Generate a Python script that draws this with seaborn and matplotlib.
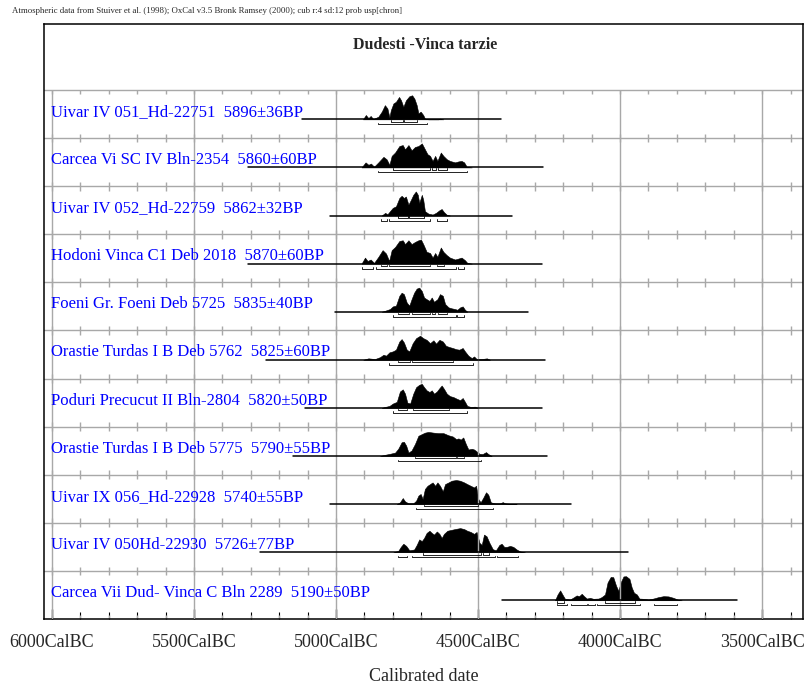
import numpy as np
import pandas as pd
import seaborn as sns
import matplotlib.pyplot as plt

# row labels (top to bottom)
labels = ["Uivar IV 051_Hd-22751  5896\u00b136BP",
          "Carcea Vi SC IV Bln-2354  5860\u00b160BP",
          "Uivar IV 052_Hd-22759  5862\u00b132BP",
          "Hodoni Vinca C1 Deb 2018  5870\u00b160BP",
          "Foeni Gr. Foeni Deb 5725  5835\u00b140BP",
          "Orastie Turdas I B Deb 5762  5825\u00b160BP",
          "Poduri Precucut II Bln-2804  5820\u00b150BP",
          "Orastie Turdas I B Deb 5775  5790\u00b155BP",
          "Uivar IX 056_Hd-22928  5740\u00b155BP",
          "Uivar IV 050Hd-22930  5726\u00b177BP",
          "Carcea Vii Dud- Vinca C Bln 2289  5190\u00b150BP"]

# extent of the calibration line for each row (cal BC)
line_start = [5120, 5310, 5021, 5310, 5004, 5247, 5109, 5151, 5021, 5268, 4416]
line_end = [4419, 4271, 4380, 4275, 4324, 4264, 4275, 4257, 4173, 3972, 3588]

# probability distributions (cal BC, relative prob)
yrs_1 = [4905, 4895, 4886, 4878, 4869, 4851, 4839, 4828, 4819, 4812, 4807, 4798, 4789, 4778, 4771,
         4763, 4754, 4742, 4732, 4724, 4716, 4710, 4702, 4693, 4687, 4675, 4640, 4634, 4622]
p_1 = [0, .18, .05, .14, .01, .11, .32, .59, .45, .08, .38, .66, .73, .93, .79,
       .52, .79, .96, 1.0, .86, .59, .25, .32, .18, .03, 0, 0, .03, 0]

yrs_2 = [4910, 4896, 4886, 4877, 4866, 4851, 4833, 4822, 4812, 4804, 4792, 4777, 4765, 4757, 4745,
         4734, 4722, 4710, 4698, 4690, 4678, 4669, 4660, 4651, 4643, 4631, 4622, 4610, 4599, 4581,
         4569, 4558, 4549, 4540, 4522]
p_2 = [0, .21, .11, .16, .03, .21, .44, .34, .11, .48, .62, .89, .93, .75, .93,
       .71, .85, .89, 1.0, .82, .55, .48, .27, .48, .27, .62, .48, .34, .27, .21,
       .25, .27, .21, .03, 0]

yrs_3 = [4839, 4827, 4819, 4810, 4800, 4789, 4777, 4769, 4761, 4754, 4745, 4736, 4728, 4719, 4712,
         4707, 4698, 4693, 4687, 4675, 4660, 4648, 4636, 4628, 4620, 4610, 4599]
p_3 = [0, .11, .05, .18, .32, .38, .73, .82, .73, .79, .45, .66, .86, 1.0, .86,
       .52, .86, .66, .18, .08, .04, .11, .22, .27, .14, .03, 0]

yrs_4 = [4910, 4898, 4889, 4878, 4866, 4851, 4836, 4824, 4813, 4804, 4792, 4777, 4765, 4757, 4745,
         4734, 4722, 4710, 4701, 4693, 4681, 4669, 4660, 4651, 4643, 4631, 4622, 4610, 4599, 4581,
         4569, 4558, 4546, 4538, 4522]
p_4 = [0, .25, .11, .17, .03, .28, .56, .42, .11, .56, .69, .94, .97, .81, .97,
       .81, .90, .97, 1.0, .81, .49, .44, .25, .44, .28, .67, .49, .35, .25, .17,
       .21, .25, .14, .03, 0]

yrs_5 = [4839, 4827, 4810, 4800, 4789, 4777, 4769, 4761, 4751, 4742, 4734, 4725, 4716, 4707, 4698,
         4690, 4681, 4671, 4663, 4655, 4643, 4634, 4624, 4616, 4604, 4593, 4581, 4573, 4563, 4554,
         4546, 4538]
p_5 = [0, .04, .11, .22, .25, .66, .79, .73, .38, .25, .52, .79, .96, 1.0, .86,
       .59, .52, .45, .59, .41, .52, .73, .66, .32, .18, .14, .11, .08, .18, .22,
       .08, 0]

yrs_6 = [4904, 4886, 4863, 4845, 4833, 4824, 4812, 4800, 4789, 4777, 4769, 4761, 4751, 4742, 4730,
         4718, 4704, 4693, 4681, 4669, 4657, 4648, 4636, 4624, 4613, 4601, 4589, 4577, 4566, 4554,
         4546, 4534, 4522, 4514, 4505, 4487, 4469, 4458]
p_6 = [0, .06, .03, .11, .21, .17, .31, .35, .42, .76, .86, .72, .42, .35, .69,
       .90, 1.0, .90, .83, .69, .81, .67, .83, .76, .58, .53, .49, .44, .42, .49,
       .35, .17, .07, .14, .03, .03, .06, 0]

yrs_7 = [4839, 4827, 4812, 4800, 4786, 4775, 4765, 4757, 4749, 4739, 4728, 4718, 4707, 4698, 4690,
         4681, 4671, 4663, 4655, 4645, 4636, 4628, 4620, 4610, 4599, 4587, 4575, 4563, 4554, 4546,
         4538, 4526, 4511, 4499]
p_7 = [0, .04, .08, .18, .25, .68, .77, .59, .22, .18, .59, .86, .96, 1.0, .86,
       .73, .66, .73, .59, .68, .82, .93, .79, .59, .49, .45, .38, .32, .41, .25,
       .08, .04, .05, 0]

yrs_8 = [4845, 4827, 4810, 4792, 4781, 4769, 4761, 4753, 4745, 4734, 4722, 4710, 4698, 4687, 4675,
         4657, 4640, 4622, 4604, 4589, 4577, 4569, 4561, 4552, 4543, 4534, 4522, 4514, 4505, 4495,
         4484, 4472, 4464, 4452]
p_8 = [0, .05, .09, .14, .30, .57, .59, .43, .14, .23, .50, .84, .91, .97, 1.0,
       .97, .95, .95, .86, .81, .70, .73, .68, .77, .50, .27, .30, .27, .19, .09,
       .08, .16, .08, 0]

yrs_9 = [4786, 4775, 4765, 4757, 4745, 4728, 4718, 4710, 4702, 4695, 4687, 4678, 4669, 4660, 4651,
         4643, 4634, 4624, 4616, 4604, 4593, 4577, 4563, 4549, 4538, 4526, 4514, 4507, 4499, 4491,
         4481, 4472, 4464, 4455, 4440, 4423, 4413, 4405, 4387, 4364]
p_9 = [0, .07, .25, .11, .03, .03, .14, .35, .42, .21, .63, .76, .83, .90, .76,
       .90, .76, .53, .83, .90, .97, 1.0, .97, .90, .83, .76, .69, .76, .21, .07,
       .28, .49, .39, .07, .03, .03, .08, .03, .01, 0]

yrs_10 = [4798, 4781, 4772, 4763, 4753, 4742, 4725, 4716, 4707, 4698, 4690, 4681, 4671, 4663, 4655,
          4645, 4636, 4628, 4620, 4608, 4593, 4577, 4563, 4549, 4538, 4526, 4514, 4505, 4495, 4487,
          4479, 4470, 4460, 4448, 4437, 4425, 4417, 4408, 4399, 4387, 4376, 4364, 4352, 4335]
p_10 = [0, .05, .22, .35, .26, .08, .11, .30, .53, .46, .59, .80, .89, .80, .73,
        .86, .76, .59, .76, .89, .93, .97, 1.0, .96, .89, .84, .76, .84, .39, .30,
        .73, .66, .39, .12, .08, .30, .35, .22, .22, .26, .22, .11, .03, 0]

yrs_11 = [4229, 4220, 4211, 4203, 4194, 4176, 4162, 4153, 4144, 4135, 4127, 4117, 4106, 4094, 4076,
          4065, 4053, 4044, 4033, 4024, 4014, 4006, 3998, 3988, 3979, 3967, 3959, 3951, 3941, 3932,
          3918, 3900, 3883, 3865, 3847, 3830, 3812, 3798, 3783]
p_11 = [0, .24, .41, .24, .06, .03, .13, .20, .17, .27, .17, .07, .10, .06, .07,
        .13, .24, .74, .97, .96, .60, .39, .74, .99, 1.0, .89, .53, .31, .24, .07,
        .06, .03, .07, .13, .17, .16, .10, .03, 0]

# 68.2% and 95.4% ranges
sig1 = [[(4806, 4764), (4761, 4714)],
        [(4800, 4669), (4662, 4648), (4640, 4608)],
        [(4781, 4745), (4742, 4690)],
        [(4843, 4819), (4812, 4669), (4643, 4620)],
        [(4781, 4742), (4734, 4669), (4663, 4651), (4642, 4610)],
        [(4781, 4739), (4734, 4589)],
        [(4781, 4749), (4730, 4601)],
        [(4722, 4577), (4573, 4549)],
        [(4690, 4499)],
        [(4693, 4491), (4484, 4460)],
        [(4221, 4197), (4053, 3947)]]
sig2 = [[(4851, 4678)],
        [(4851, 4540)],
        [(4843, 4819), (4812, 4669), (4643, 4608)],
        [(4910, 4871), (4859, 4577), (4569, 4549)],
        [(4800, 4577), (4573, 4549)],
        [(4812, 4519)],
        [(4800, 4540)],
        [(4781, 4491)],
        [(4719, 4448)],
        [(4781, 4749), (4731, 4440), (4432, 4358)],
        [(4221, 4188), (4173, 4117), (4112, 4088), (4080, 3930), (3880, 3798)]]

major_years = [6000, 5500, 5000, 4500, 4000, 3500]

yrs_all = [yrs_1, yrs_2, yrs_3, yrs_4, yrs_5, yrs_6, yrs_7, yrs_8, yrs_9, yrs_10, yrs_11]
p_all = [p_1, p_2, p_3, p_4, p_5, p_6, p_7, p_8, p_9, p_10, p_11]

sns.set_style('white')
plt.rcParams['font.family'] = ['Liberation Serif', 'DejaVu Serif']

fig = plt.figure(figsize=(8.06, 6.87), dpi=100)
ax = fig.add_axes([44/806, 68/687, 759/806, 595/687])

n = len(labels)
head = 66/48.1
grey = '#a8a8a8'

# row separators with 100-year ticks
minor = np.arange(6000, 3350, -100)
for k in range(1, n + 1):
    ax.axhline(k, color=grey, lw=1.0, zorder=1)
    ax.vlines(minor, k - 0.09, k, color=grey, lw=1.0, zorder=1)
for k in range(0, n):
    ax.vlines(minor, k, k + 0.09, color=grey, lw=1.0, zorder=1)

for i in range(n):
    base = (n - 1 - i) + 0.39
    df = pd.DataFrame({'yr': yrs_all[i], 'p': np.array(p_all[i]) * 0.5 + base})
    ax.fill_between(df['yr'], base, df['p'], color='black', lw=0.4, zorder=2)
    sns.lineplot(x=[line_start[i], line_end[i]], y=[base, base], color='black', lw=1.1, ax=ax, zorder=4)
    for y0, rng in ((base - 0.05, sig1[i]), (base - 0.105, sig2[i])):
        for a, c in rng:
            ax.plot([a, a, c, c], [y0 + 0.03, y0, y0, y0 + 0.03], color='black', lw=0.6, zorder=4)
    ax.text(6004, base + 0.07, labels[i], color='blue', fontsize=12, va='baseline', zorder=5)

# 500-year grid
ax.vlines(major_years, 0, n, color=grey, lw=1.0, zorder=3)

ax.text(4686, n + head - 21/48.1, 'Dudesti -Vinca tarzie', ha='center', va='center',
        fontsize=11.5, fontweight='bold')

ax.set_xlim(6028, 3356)
ax.set_ylim(0, n + head)
ax.set_yticks([])
ax.set_xticks(major_years)
ax.set_xticklabels([f'{v}CalBC' for v in major_years])
ax.set_xticks(minor, minor=True)
ax.tick_params(axis='x', which='both', direction='in', bottom=True, top=False, color='black',
               labelsize=13, pad=11)
ax.tick_params(axis='x', which='major', length=7, width=1.0)
ax.tick_params(axis='x', which='minor', length=5, width=0.8)
ax.set_xlabel('Calibrated date', fontsize=13, labelpad=12)
ax.set_ylabel('')
for s in ax.spines.values():
    s.set_color('black')
    s.set_linewidth(1.1)

fig.text(12/806, 1 - 11/687,
         'Atmospheric data from Stuiver et al. (1998); OxCal v3.5 Bronk Ramsey (2000); cub r:4 sd:12 prob usp[chron]',
         fontsize=6.3, va='center')

fig.savefig('out.png', dpi=100)
